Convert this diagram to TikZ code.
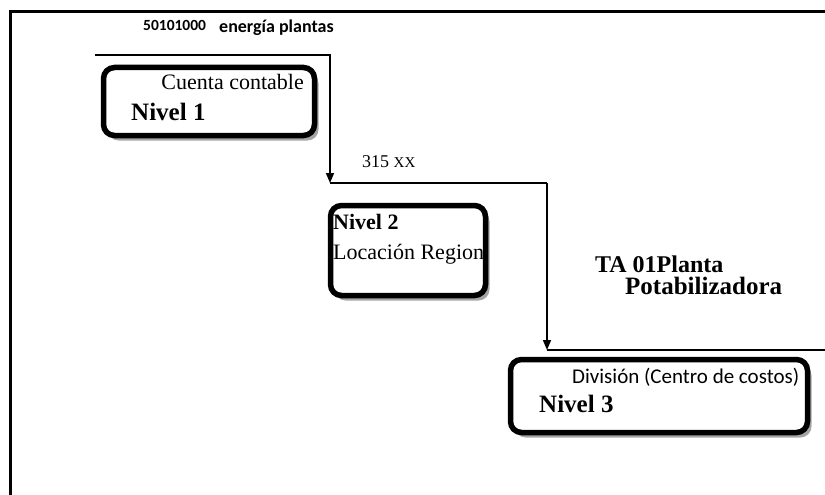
\documentclass[tikz,border=0pt]{standalone}
\usepackage{fontspec}
\setmainfont{Liberation Serif}
\newfontfamily\calibri{Carlito}
\usetikzlibrary{arrows.meta,positioning,shadows}

\begin{document}
\begin{tikzpicture}[
    x=1pt, y=-1pt,
    nivel/.style={
        rectangle,
        rounded corners=11pt,
        draw=black,
        line width=5.5pt,
        fill=white,
        drop shadow={shadow xshift=4pt, shadow yshift=-5pt, fill=black!70},
        inner sep=0pt
    },
    flecha/.style={-{Triangle[length=10pt,width=8pt]}, line width=1.5pt},
    linea/.style={line width=1.5pt},
    texto/.style={inner sep=0pt, anchor=base west}
]
    \useasboundingbox (0,0) rectangle (825,495);

    % outer frame
    \coordinate (fa) at (10,495);
    \coordinate (fb) at (10,12);
    \coordinate (fc) at (825,12);
    \draw[line width=3pt] (fa) -- (fb) -- (fc);

    % title
    \node[texto] (codigo) at (143,31) {\calibri\bfseries\fontsize{15.5}{16}\selectfont 50101000};
    \node[texto] (titulo) at (219,33)
        {\calibri\bfseries\fontsize{18}{20}\selectfont energía plantas};

    % level boxes
    \node[nivel, minimum width=211pt, minimum height=68pt] (nivel1) at (209,101.5) {};
    \node[nivel, minimum width=155pt, minimum height=90pt] (nivel2) at (408,250.5) {};
    \node[nivel, minimum width=297pt, minimum height=73pt] (nivel3) at (659,396) {};

    % texts inside the boxes
    \node[texto, anchor=base east] (cuenta) at (304,89) {\fontsize{22}{24}\selectfont Cuenta contable};
    \node[texto] (n1) at (131,121) {\bfseries\fontsize{25}{26}\selectfont Nivel 1};
    \node[texto] (n2) at (333,229) {\bfseries\fontsize{22}{24}\selectfont Nivel 2};
    \node[texto] (locacion) at (333,259) {\fontsize{22}{24}\selectfont Locación Region};
    \node[texto] (division) at (572,383) {\calibri\fontsize{21}{22}\selectfont División (Centro de costos)};
    \node[texto] (n3) at (539,412) {\bfseries\fontsize{25}{26}\selectfont Nivel 3};

    % labels on the lines
    \node[texto] (cod2) at (362,167) {\fontsize{18}{20}\selectfont 315 {\fontsize{15}{16}\selectfont XX}};
    \node[texto] (planta) at (595,272) {\bfseries\fontsize{24}{24}\selectfont TA 01Planta};
    \node[texto] (potab) at (625,294) {\bfseries\fontsize{25}{25}\selectfont Potabilizadora};

    % connectors
    \coordinate (p0) at (95,55);
    \coordinate (k2) at (330,183);
    \coordinate (k3) at (547,183);
    \coordinate (k4) at (547,350);
    \coordinate (p5) at (825,350);
    \draw[flecha] (p0) -| (k2);
    \draw[linea] (k2) -- (k3);
    \draw[flecha] (k3) -- (k4);
    \draw[linea] (k4) -- (p5);

\end{tikzpicture}
\end{document}
